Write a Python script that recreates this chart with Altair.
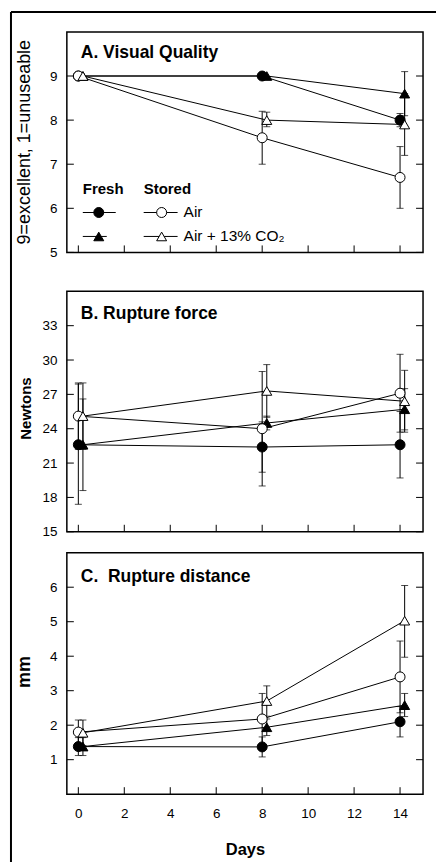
import altair as alt
import pandas as pd

NaN = float("nan")

# ---------------- data ----------------
DAYS = [0, 8, 14]            # circle series
DAYS_TRI = [0.2, 8.2, 14.2]  # triangle series (plotted slightly offset)
SERIES = ["fresh_circle", "fresh_triangle", "air", "air_co2"]

# A. Visual quality
A_fresh_circle = [9.0, 9.0, 8.0]
A_fresh_circle_lo = [NaN, NaN, 7.85]
A_fresh_circle_hi = [NaN, NaN, 8.15]
A_fresh_triangle = [9.0, 9.0, 8.6]
A_fresh_triangle_lo = [NaN, NaN, 8.1]
A_fresh_triangle_hi = [NaN, NaN, 9.1]
A_air = [9.0, 7.6, 6.7]
A_air_lo = [NaN, 7.0, 6.0]
A_air_hi = [NaN, 8.2, 7.4]
A_co2 = [9.0, 8.0, 7.9]
A_co2_lo = [NaN, 7.85, 7.2]
A_co2_hi = [NaN, 8.18, 8.6]

# B. Rupture force
B_fresh_circle = [22.6, 22.4, 22.6]
B_fresh_circle_lo = [17.4, 20.2, 19.7]
B_fresh_circle_hi = [27.9, 24.6, 25.5]
B_fresh_triangle = [22.6, 24.5, 25.7]
B_fresh_triangle_lo = [18.6, 23.9, 23.9]
B_fresh_triangle_hi = [26.6, 25.1, 27.5]
B_air = [25.1, 24.0, 27.1]
B_air_lo = [22.2, 19.0, 23.7]
B_air_hi = [28.0, 29.0, 30.5]
B_co2 = [25.1, 27.3, 26.4]
B_co2_lo = [22.2, 25.0, 23.7]
B_co2_hi = [28.0, 29.6, 29.1]

# C. Rupture distance
C_fresh_circle = [1.38, 1.37, 2.10]
C_fresh_circle_lo = [1.12, 1.08, 1.66]
C_fresh_circle_hi = [1.64, 1.66, 2.54]
C_fresh_triangle = [1.38, 1.94, 2.58]
C_fresh_triangle_lo = [1.12, 1.70, 2.25]
C_fresh_triangle_hi = [1.64, 2.18, 2.92]
C_air = [1.80, 2.18, 3.40]
C_air_lo = [1.45, 1.44, 2.36]
C_air_hi = [2.15, 2.92, 4.44]
C_co2 = [1.78, 2.70, 5.03]
C_co2_lo = [1.41, 2.26, 3.97]
C_co2_hi = [2.15, 3.14, 6.05]

X_TICKS = [0, 2, 4, 6, 8, 10, 12, 14]
A_Y_TICKS = [5, 6, 7, 8, 9]
B_Y_TICKS = [15, 18, 21, 24, 27, 30, 33]
C_Y_TICKS = [1, 2, 3, 4, 5, 6]

FONT = "Liberation Sans"
W = 357
TICK = 7

STYLE = {
    "fresh_circle": ("circle", "black"),
    "fresh_triangle": ("triangle-up", "black"),
    "air": ("circle", "white"),
    "air_co2": ("triangle-up", "white"),
}


def build_df(vals):
    rows = []
    for s, (v, lo, hi) in zip(SERIES, vals):
        xs = DAYS if STYLE[s][0] == "circle" else DAYS_TRI
        for d, a, l, h in zip(xs, v, lo, hi):
            rows.append({"day": d, "val": a, "lo": l, "hi": h, "series": s})
    return pd.DataFrame(rows)


def panel(df, ydom, frame_h, yticks, ytitle, ytitle_size, ytitle_weight,
          ytitle_x, ytitle_y, ptitle, ptitle_y, show_x):
    xscale = alt.Scale(domain=[-0.5, 15], nice=False, zero=False)
    yscale = alt.Scale(domain=ydom, nice=False, zero=False)
    if show_x:
        xax = alt.Axis(values=X_TICKS, ticks=False, domain=False, grid=False,
                       labelPadding=12, labelFontSize=13.5, title="Days",
                       titleFontSize=16.5, titleFontWeight="bold",
                       titleBaseline="top", titleY=47, labelColor="black",
                       titleColor="black")
    else:
        xax = None
    yax = alt.Axis(values=yticks, ticks=False, domain=False, grid=False,
                   labelPadding=10, labelFontSize=13.5, title=ytitle,
                   titleFontSize=ytitle_size, titleFontWeight=ytitle_weight,
                   titleX=ytitle_x, titleY=ytitle_y, labelColor="black",
                   titleColor="black")
    X = lambda f: alt.X(f, scale=xscale, axis=xax)
    Y = lambda f: alt.Y(f, scale=yscale, axis=yax)

    base = alt.Chart(df)
    layers = []
    layers.append(base.mark_line(color="black", strokeWidth=1).encode(
        x=X("day:Q"), y=Y("val:Q"), detail="series:N", order="day:Q"))
    err = base.transform_filter("isValid(datum.lo) && isFinite(datum.lo)")
    layers.append(err.mark_rule(color="black", strokeWidth=1).encode(
        x=X("day:Q"), y=Y("lo:Q"), y2="hi:Q"))
    layers.append(err.mark_tick(orient="horizontal", size=7, thickness=1, color="black").encode(
        x=X("day:Q"), y=Y("lo:Q")))
    layers.append(err.mark_tick(orient="horizontal", size=7, thickness=1, color="black").encode(
        x=X("day:Q"), y=Y("hi:Q")))
    for s in SERIES:
        shape, fill = STYLE[s]
        layers.append(base.transform_filter(alt.datum.series == s).mark_point(
            shape=shape, filled=True, fill=fill, stroke="black", strokeWidth=1,
            size=100, opacity=1).encode(x=X("day:Q"), y=Y("val:Q")))

    ydf = pd.DataFrame({"t": yticks})
    xdf = pd.DataFrame({"t": X_TICKS})
    layers.append(alt.Chart(ydf).mark_rule(color="black", strokeWidth=1).encode(
        y=Y("t:Q"), x=alt.value(0), x2=alt.value(TICK)))
    layers.append(alt.Chart(ydf).mark_rule(color="black", strokeWidth=1).encode(
        y=Y("t:Q"), x=alt.value(W - TICK), x2=alt.value(W)))
    layers.append(alt.Chart(xdf).mark_rule(color="black", strokeWidth=1).encode(
        x=X("t:Q"), y=alt.value(frame_h - TICK), y2=alt.value(frame_h)))

    one = pd.DataFrame({"k": [0]})
    layers.append(alt.Chart(one).mark_text(
        text=ptitle, align="left", baseline="alphabetic", fontSize=17.5,
        fontWeight="bold", font=FONT, color="black").encode(
        x=alt.value(14), y=alt.value(ptitle_y)))
    return layers, one


# ---------- panel A ----------
A_FRAME_H = 221
A_GAP = 18
A_ppu = A_FRAME_H / 5.0
A_low = 5 - A_GAP / A_ppu
dfA = build_df([
    (A_fresh_circle, A_fresh_circle_lo, A_fresh_circle_hi),
    (A_fresh_triangle, A_fresh_triangle_lo, A_fresh_triangle_hi),
    (A_air, A_air_lo, A_air_hi),
    (A_co2, A_co2_lo, A_co2_hi),
])
layersA, one = panel(dfA, [A_low, 10], A_FRAME_H, A_Y_TICKS,
                     "9=excellent, 1=unuseable", 18, "normal", -33, 110,
                     "A. Visual Quality", 26, False)
# plot frame of panel A (drawn on the data bounds)
layersA.append(alt.Chart(one).mark_rect(filled=False, stroke="black", strokeWidth=1.5).encode(
    x=alt.datum(-0.5), x2=alt.datum(15), y=alt.datum(5), y2=alt.datum(10)))
# legend
LEG_R1, LEG_R2 = 181, 205
for txt, xx in [("Fresh", 16), ("Stored", 77)]:
    layersA.append(alt.Chart(one).mark_text(text=txt, align="left", baseline="alphabetic",
                                            fontSize=15, fontWeight="bold", font=FONT,
                                            color="black").encode(
        x=alt.value(xx), y=alt.value(162)))
for (x0, x1, xm, yy, s) in [(16, 49, 32, LEG_R1, "fresh_circle"),
                            (16, 40, 32, LEG_R2, "fresh_triangle"),
                            (77, 111, 95, LEG_R1, "air"),
                            (77, 111, 95, LEG_R2, "air_co2")]:
    shape, fill = STYLE[s]
    layersA.append(alt.Chart(one).mark_rule(color="black", strokeWidth=1).encode(
        x=alt.value(x0), x2=alt.value(x1), y=alt.value(yy)))
    layersA.append(alt.Chart(one).mark_point(shape=shape, filled=True, fill=fill, stroke="black",
                                             strokeWidth=1, size=100, opacity=1).encode(
        x=alt.value(xm), y=alt.value(yy)))
for txt, yy in [("Air", LEG_R1), ("Air + 13% CO\u2082", LEG_R2)]:
    layersA.append(alt.Chart(one).mark_text(text=txt, align="left", baseline="middle",
                                            fontSize=15.5, font=FONT, color="black").encode(
        x=alt.value(117), y=alt.value(yy)))
# figure border (top and left edges)
layersA.append(alt.Chart(one).mark_rule(color="black", strokeWidth=2).encode(
    x=alt.value(-56), x2=alt.value(370), y=alt.value(-20)))
layersA.append(alt.Chart(one).mark_rule(color="black", strokeWidth=2).encode(
    x=alt.value(-56), y=alt.value(-20), y2=alt.value(832)))

chartA = alt.layer(*layersA).properties(
    width=W, height=A_FRAME_H + A_GAP, view=alt.ViewBackground(stroke="transparent"))

# ---------- panel B ----------
dfB = build_df([
    (B_fresh_circle, B_fresh_circle_lo, B_fresh_circle_hi),
    (B_fresh_triangle, B_fresh_triangle_lo, B_fresh_triangle_hi),
    (B_air, B_air_lo, B_air_hi),
    (B_co2, B_co2_lo, B_co2_hi),
])
layersB, _ = panel(dfB, [15, 36], 241, B_Y_TICKS, "Newtons", 15, "bold",
                   -33, 117, "B. Rupture force", 28, False)
chartB = alt.layer(*layersB).properties(width=W, height=241)

# ---------- panel C ----------
dfC = build_df([
    (C_fresh_circle, C_fresh_circle_lo, C_fresh_circle_hi),
    (C_fresh_triangle, C_fresh_triangle_lo, C_fresh_triangle_hi),
    (C_air, C_air_lo, C_air_hi),
    (C_co2, C_co2_lo, C_co2_hi),
])
layersC, _ = panel(dfC, [0, 7], 242, C_Y_TICKS, "mm", 18, "bold",
                   -33, 119, "C.\u00a0 Rupture distance", 29, True)
chartC = alt.layer(*layersC).properties(width=W, height=242)

chart = alt.vconcat(chartA, chartB, chartC, spacing=21, bounds="flush").properties(
    padding={"left": 9, "top": 9, "right": 0, "bottom": 0}
).configure(font=FONT).configure_view(stroke="black", strokeWidth=1.5)

chart.save("out.html", embed_options={"renderer": "svg", "actions": False})
